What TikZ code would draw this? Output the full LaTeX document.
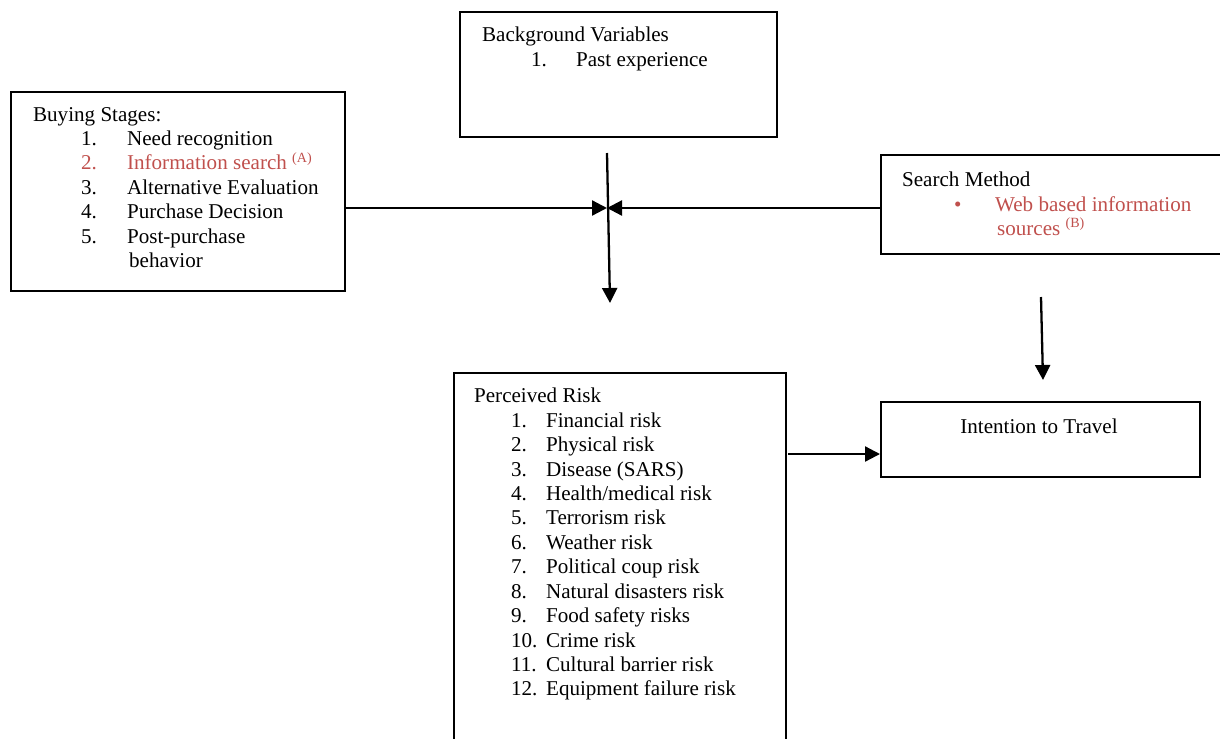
\documentclass[tikz,border=0pt]{standalone}
\usepackage{fontspec}
\setmainfont{Liberation Serif}
\usetikzlibrary{arrows.meta,positioning}
\definecolor{stagered}{RGB}{192,80,77}
\newcommand{\stg}[2]{\hspace*{0.96cm}\makebox[0.92cm][l]{#1}#2}
\newcommand{\rsk}[2]{\hspace*{0.74cm}\makebox[0.7cm][l]{#1}#2}

\begin{document}
\begin{tikzpicture}[x=0.02cm,y=-0.02cm,line width=1.3pt,>={Triangle[length=0.3cm,width=0.3cm]},font=\fontsize{12}{13.9}\selectfont]
 \tikzstyle{box}=[draw,rectangle,inner sep=0pt,anchor=north west]
 \tikzstyle{txt}=[align=left,inner sep=0pt,anchor=north west]
 \useasboundingbox (0,0) rectangle (1220,738);

   % boxes
   \node[box,minimum width=6.68cm,minimum height=3.98cm] (stages) at (10,91) {};
   \node[box,minimum width=6.34cm,minimum height=2.5cm] (bground) at (459,11) {};
   \node[box,minimum width=7cm,minimum height=1.98cm] (search) at (880,154) {};
   \node[box,minimum width=6.64cm,minimum height=8cm] (prisk) at (453,372) {};
   \node[box,minimum width=6.38cm,minimum height=1.5cm] (intent) at (880,401) {};

   % texts
   \node[txt] (stagestxt) at (32,106) {Buying Stages:\\
     \stg{1.}{Need recognition}\\
     \textcolor{stagered}{\stg{2.}{Information search \textsuperscript{(A)}}}\\
     \stg{3.}{Alternative Evaluation}\\
     \stg{4.}{Purchase Decision}\\
     \stg{5.}{Post-purchase}\\
     \hspace*{1.92cm}behavior};
   \node[txt] (bgroundtxt) at (481,26) {Background Variables\\
     \hspace*{0.98cm}\makebox[0.9cm][l]{1.}Past experience};
   \node[txt] (searchtxt) at (901,171) {Search Method\\
     \textcolor{stagered}{\hspace*{1.04cm}\makebox[0.82cm][l]{\textbullet}Web based information}\\
     \textcolor{stagered}{\hspace*{1.9cm}sources \textsuperscript{(B)}}};
   \node[txt] (prisktxt) at (473,387) {Perceived Risk\\
     \rsk{1.}{Financial risk}\\
     \rsk{2.}{Physical risk}\\
     \rsk{3.}{Disease (SARS)}\\
     \rsk{4.}{Health/medical risk}\\
     \rsk{5.}{Terrorism risk}\\
     \rsk{6.}{Weather risk}\\
     \rsk{7.}{Political coup risk}\\
     \rsk{8.}{Natural disasters risk}\\
     \rsk{9.}{Food safety risks}\\
     \rsk{10.}{Crime risk}\\
     \rsk{11.}{Cultural barrier risk}\\
     \rsk{12.}{Equipment failure risk}};
   \node[inner sep=0pt] (intenttxt) at (1039,426) {Intention to Travel};

   % connectors
   \coordinate (meet) at (607,208);
   \coordinate (downtop) at (607,153);
   \coordinate (downend) at (610,303);
   \coordinate (riskout) at (788,454);
   \coordinate (webtop) at (1041,297);
   \coordinate (webend) at (1043,380);

   \draw[->] (stages.east |- meet) -- (meet);
   \draw[->] (search.west |- meet) -- (meet);
   \draw[->] (downtop) -- (downend);
   \draw[->] (riskout) -- (intent.west |- riskout);
   \draw[->] (webtop) -- (webend);

\end{tikzpicture}
\end{document}
